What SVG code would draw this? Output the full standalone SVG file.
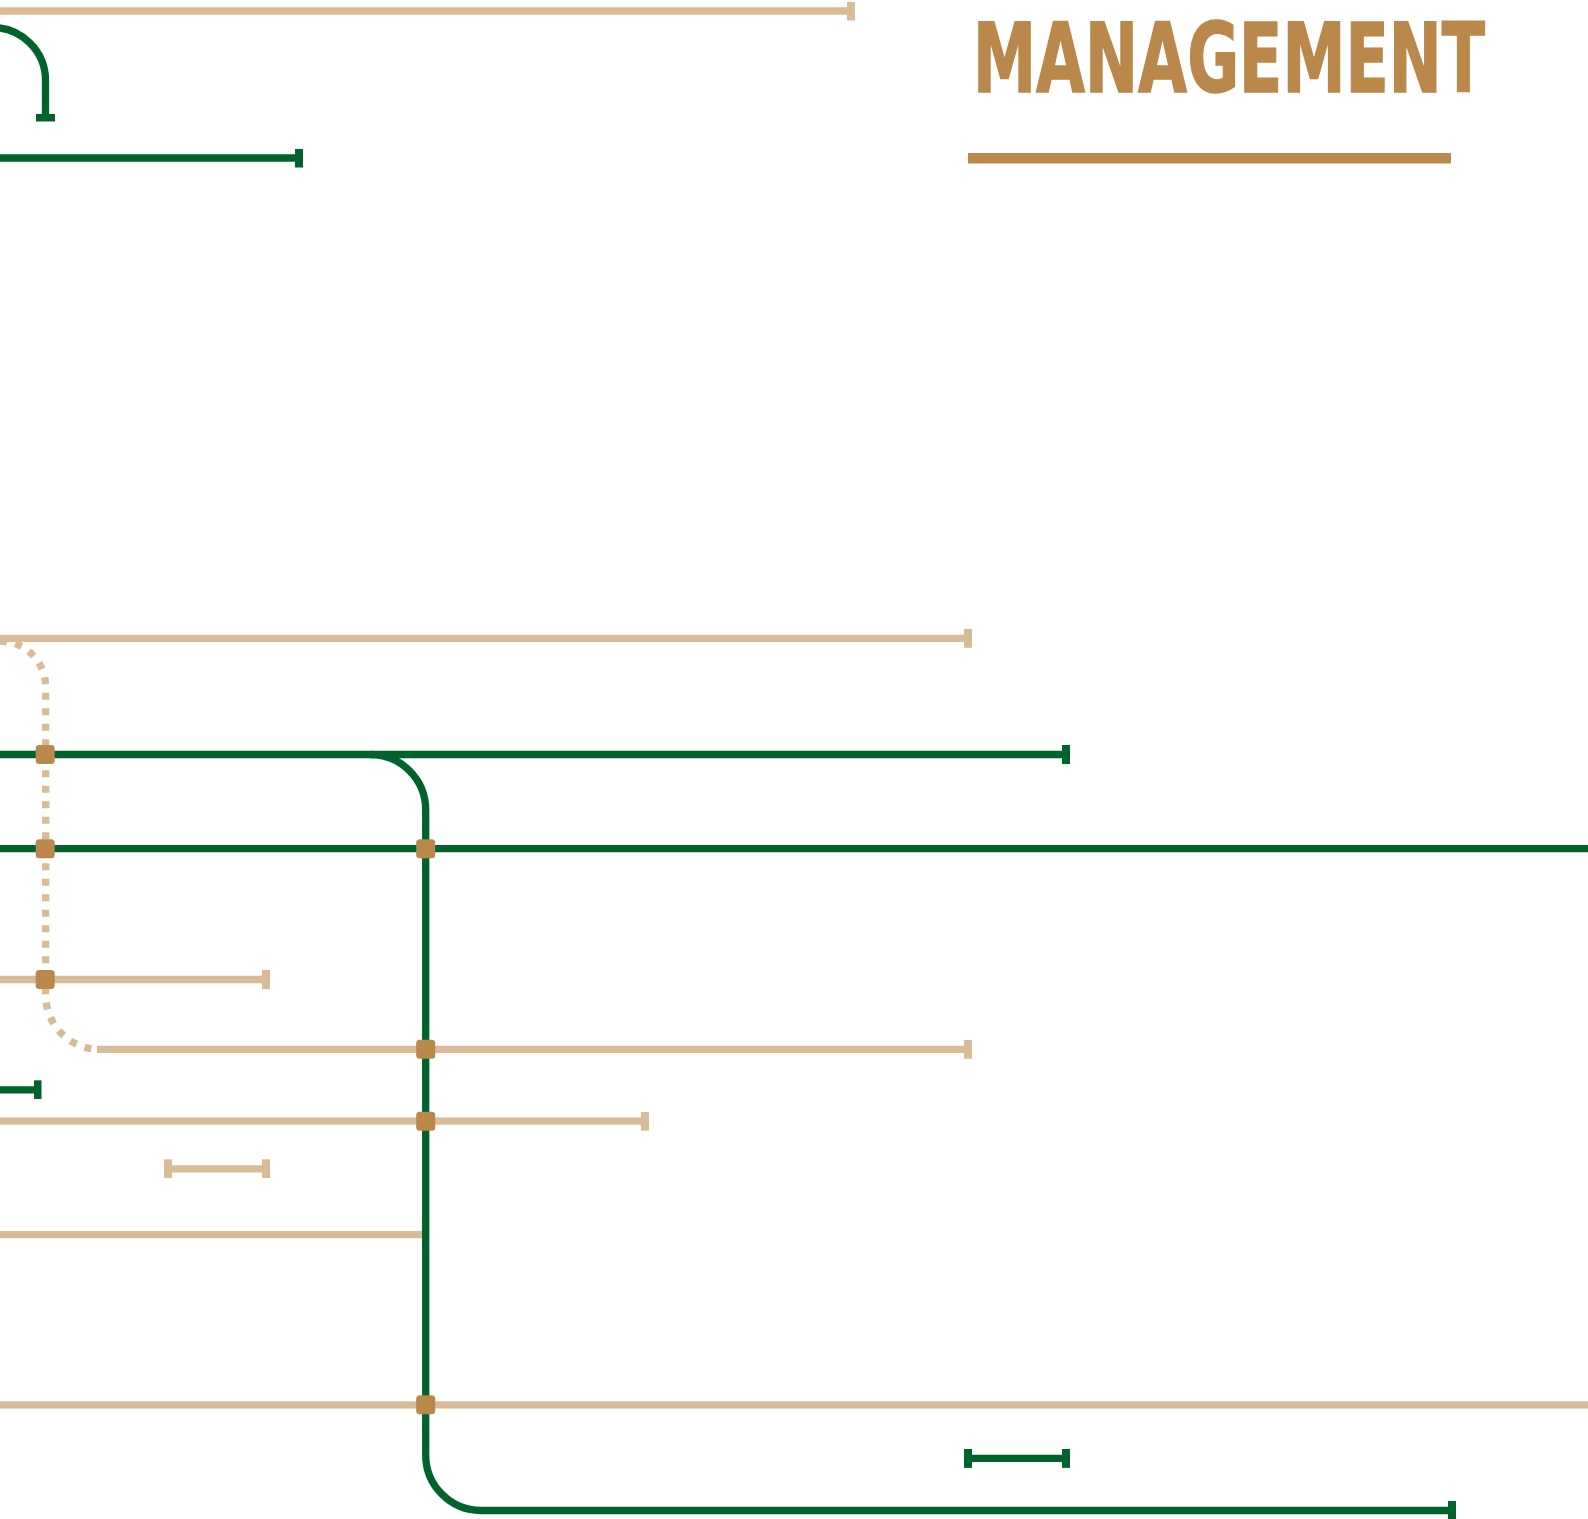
<svg xmlns="http://www.w3.org/2000/svg" width="1588" height="1519" viewBox="0 0 1588 1519">
<style>
.g{fill:none;stroke:#00632C;stroke-width:7.3}
.t{fill:none;stroke:#D9BB98;stroke-width:7.3}
.d{fill:none;stroke:#D9BB98;stroke-width:7.3;stroke-dasharray:7 8.5}
.j{fill:#B9884A}
.title{font-family:"Liberation Sans Narrow","DejaVu Sans Condensed","Liberation Sans",sans-serif;font-weight:bold;font-size:97px;fill:#B9884A;stroke:#B9884A;stroke-width:1.5}
</style>
<defs>
<marker id="capG" markerUnits="userSpaceOnUse" viewBox="0 0 8 19" markerWidth="8" markerHeight="19" refX="4" refY="9.5" orient="auto"><rect width="8" height="19" fill="#00632C"/></marker>
<marker id="capT" markerUnits="userSpaceOnUse" viewBox="0 0 8 19" markerWidth="8" markerHeight="19" refX="4" refY="9.5" orient="auto"><rect width="8" height="19" fill="#D9BB98"/></marker>
<rect id="jn" x="-9.5" y="-9.5" width="19" height="19" rx="3.5" class="j"/>
</defs>
<g id="title">
<text class="title" x="973" y="92" textLength="512" lengthAdjust="spacingAndGlyphs">MANAGEMENT</text>
<rect x="968" y="153" width="483" height="10.5" fill="#B9884A"/>
</g>
<g id="connectors">
<path class="t" d="M0 11H851" marker-end="url(#capT)"/>
<path class="g" d="M-8 27.5A53 53 0 0 1 45.5 80.5V117.5" marker-end="url(#capG)"/>
<path class="g" d="M0 158H299" marker-end="url(#capG)"/>
<path class="t" d="M0 638.3H968" marker-end="url(#capT)"/>
<path class="t" d="M0 979.5H266" marker-end="url(#capT)"/>
<path class="t" d="M97 1049.3H968" marker-end="url(#capT)"/>
<path class="t" d="M0 1121.2H645" marker-end="url(#capT)"/>
<path class="t" d="M168 1168.8H266" marker-start="url(#capT)" marker-end="url(#capT)"/>
<path class="t" d="M0 1234.6H424"/>
<path class="t" d="M0 1404.8H1588"/>
<path class="g" d="M0 754.5H1066" marker-end="url(#capG)"/>
<path class="g" d="M370 754.5A55.5 55.5 0 0 1 425.7 810V1455A55.5 55.5 0 0 0 481 1510.5H1452" marker-end="url(#capG)"/>
<path class="g" d="M0 848.7H1588"/>
<path class="g" d="M0 1089.8H37.5" marker-end="url(#capG)"/>
<path class="g" d="M968 1458.4H1066" marker-start="url(#capG)" marker-end="url(#capG)"/>
<path class="d" d="M0 641A46 46 0 0 1 45.7 687V995A54 54 0 0 0 99.7 1049.3"/>
</g>
<g id="junctions">
<use id="j1" href="#jn" x="45.2" y="754.5"/>
<use id="j2" href="#jn" x="45.2" y="848.7"/>
<use id="j3" href="#jn" x="45.2" y="979.5"/>
<use id="j4" href="#jn" x="425.7" y="848.7"/>
<use id="j5" href="#jn" x="425.7" y="1049.3"/>
<use id="j6" href="#jn" x="425.7" y="1121.2"/>
<use id="j7" href="#jn" x="425.7" y="1404.8"/>
</g>
</svg>
